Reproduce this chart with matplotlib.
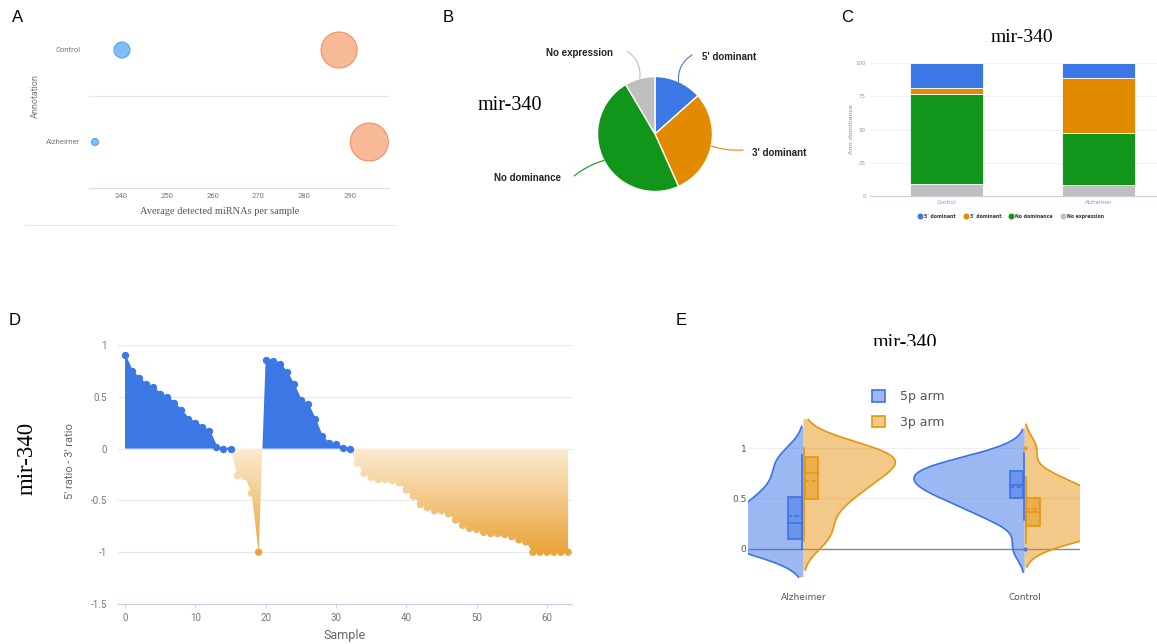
import numpy as np
import matplotlib.pyplot as plt
from matplotlib.colors import LinearSegmentedColormap
from matplotlib.lines import Line2D
from matplotlib.patches import PathPatch, Rectangle, Patch
from matplotlib.path import Path

# ---------------- data ----------------
# A: average detected miRNAs per sample (two bubble series)
groups_a = ['Alzheimer', 'Control']
blue_detected = [234.3, 240.2]
blue_weight = [2.3, 12.0]
orange_detected = [294.2, 287.6]
orange_weight = [68.0, 61.0]

# B / C: arm dominance classes
arm_classes = ["5' dominant", "3' dominant", "No dominance", "No expression"]
pie_share = [13.4, 29.9, 48.2, 8.5]
bar_groups = ['Control', 'Alzheimer']
control_share = [18.8, 4.5, 67.7, 9.0]
alzheimer_share = [11.0, 41.4, 39.3, 8.3]

# D: 5' ratio - 3' ratio per sample (first 20 control, then 44 alzheimer)
ratio_diff = [0.90, 0.75, 0.68, 0.62, 0.59, 0.53, 0.50, 0.44, 0.37, 0.29,
              0.25, 0.21, 0.17, 0.02, 0.0, 0.0, -0.26, -0.27, -0.43, -1.0,
              0.86, 0.85, 0.82, 0.74, 0.62, 0.47, 0.43, 0.29, 0.12, 0.05,
              0.04, 0.01, 0.0, -0.14, -0.24, -0.28, -0.30, -0.30, -0.31, -0.33,
              -0.40, -0.46, -0.54, -0.57, -0.60, -0.60, -0.63, -0.69, -0.74, -0.77,
              -0.78, -0.81, -0.82, -0.82, -0.83, -0.85, -0.88, -0.90, -1.0, -1.0,
              -1.0, -1.0, -1.0, -1.0]
n_control = 20

# E: arm ratios per group, same samples as D
violin_groups = ['Alzheimer', 'Control']
arm_names = ['5p arm', '3p arm']

BLUE = '#3c77e6'
ORANGE = '#e38b00'
GREEN = '#11961b'
GRAY = '#bfbfbf'
class_colors = [BLUE, ORANGE, GREEN, GRAY]
SERIF = 'Liberation Serif'
SANS = 'Roboto'

W, H = 1157, 644
fig = plt.figure(figsize=(W / 100, H / 100), dpi=100)


def axes_px(x0, y0, x1, y1):
    return fig.add_axes([x0 / W, 1 - y1 / H, (x1 - x0) / W, (y1 - y0) / H])


def ftext(px, py, s, **kw):
    return fig.text(px / W, 1 - py / H, s, **kw)


for lab, (px, py) in zip('ABCDE', [(18, 18), (448, 17), (847, 17), (15, 320), (681, 320)]):
    ftext(px, py, lab, fontsize=12, ha='center', va='center', family='Liberation Sans')

# ---------------- A ----------------
ax = axes_px(89, 4, 389, 188)
ax.scatter(blue_detected, [0, 1], s=np.array(blue_weight) * 11, color='#7fbff7',
           edgecolor='#4fa5f0', lw=0.8, zorder=3)
ax.scatter(orange_detected, [0, 1], s=np.array(orange_weight) * 11, color='#f8b996',
           edgecolor='#f39063', lw=0.8, zorder=3)
ax.set_xlim(233, 298.5)
ax.set_ylim(-0.5, 1.5)
ax.axhline(0.5, color='#e8e8e8', lw=0.8)
for s in ['top', 'right', 'left']:
    ax.spines[s].set_visible(False)
ax.spines['bottom'].set_color('#d6dcec')
ax.set_xticks(range(240, 291, 10))
ax.set_yticks([0, 1], groups_a)
ax.tick_params(length=0, labelsize=5.5, labelcolor='#777')
ax.tick_params(axis='y', pad=6)
ax.set_ylabel('Annotation', fontsize=6.5, color='#777', family=SANS)
ax.yaxis.set_label_coords(-0.165, 0.5)
for t in ax.get_xticklabels() + ax.get_yticklabels():
    t.set_family(SANS)
ftext(220, 211, 'Average detected miRNAs per sample', family=SERIF, fontsize=7.5,
      color='#555', ha='center', va='center')
fig.add_artist(Line2D([25 / W, 395 / W], [1 - 225 / H] * 2, color='#e6e6e6', lw=0.8))

# ---------------- B ----------------
cx, cy, r = 655, 134, 57.5
ax = axes_px(470, 28, 840, 242)
wedges = ax.pie(pie_share, colors=class_colors, startangle=90, counterclock=False,
                wedgeprops=dict(edgecolor='white', lw=1))[0]
ax.set_xlim((470 - cx) / r, (840 - cx) / r)
ax.set_ylim(-(242 - cy) / r, (cy - 28) / r)
ax.set_aspect('auto')
ax.axis('off')
leader_end = [(692, 55), (743, 150), (574, 176), (627, 51)]
label_pos = [(702, 57, 'left'), (752, 153, 'left'), (561, 178, 'right'), (613, 53, 'right')]
rads = [-0.3, 0.1, 0.1, 0.3]
for w, c, name, (ex, ey), (lx, ly, ha), rad in zip(wedges, class_colors, arm_classes,
                                                   leader_end, label_pos, rads):
    th = np.deg2rad((w.theta1 + w.theta2) / 2)
    ax.annotate('', xy=((ex - cx) / r, (cy - ey) / r), xytext=(np.cos(th), np.sin(th)),
                arrowprops=dict(arrowstyle='-', color=c, lw=0.8, shrinkA=0, shrinkB=0,
                                connectionstyle=f'arc3,rad={rad}'))
    ax.text((lx - cx) / r, (cy - ly) / r, name, ha=ha, va='center', fontsize=7,
            fontweight='bold', family='Liberation Sans', color='#222')
ftext(510, 105, 'mir-340', family=SERIF, fontsize=14.5, ha='center', va='center')

# ---------------- C ----------------
ax = axes_px(870, 63, 1157, 196)
stack_order = [3, 2, 1, 0]
xb = np.arange(len(bar_groups))
bottom = np.zeros(2)
for k in stack_order:
    vals = np.array([control_share[k], alzheimer_share[k]])
    ax.bar(xb, vals, 0.48, bottom=bottom, color=class_colors[k], edgecolor='white',
           lw=0.6, zorder=3)
    bottom += vals
ax.set_xlim(-0.5, 1.385)
ax.set_ylim(0, 100)
ax.set_yticks([0, 25, 50, 75, 100])
ax.yaxis.grid(True, color='#eeeeee', lw=0.6)
ax.set_xticks(xb, bar_groups)
for s in ['top', 'right', 'left']:
    ax.spines[s].set_visible(False)
ax.spines['bottom'].set_color('#c8d0e6')
ax.tick_params(length=0, labelsize=4, labelcolor='#999', pad=3)
ax.set_ylabel('Arm dominance', fontsize=4.5, color='#888')
ax.yaxis.set_label_coords(-0.055, 0.5)
legend_x = [920, 966, 1011, 1063]
for c, name, lx in zip(class_colors, arm_classes, legend_x):
    fig.add_artist(Line2D([lx / W], [1 - 216.5 / H], marker='o', ls='', color=c,
                          markersize=3.3))
    ftext(lx + 4, 216.5, name, fontsize=3.3, fontweight='bold', color='#333',
          ha='left', va='center')
ftext(1022, 38, 'mir-340', family=SERIF, fontsize=14, ha='center', va='center')

# ---------------- D ----------------
d = np.array(ratio_diff)
xs = np.arange(len(d))
ax = axes_px(118, 345, 572, 604)
ax.set_xlim(-1, 63.56)
ax.set_ylim(-1.5, 1.0)
ax.fill_between(xs, d, 0, where=d >= 0, interpolate=True, color=BLUE, lw=0, zorder=2)
neg = ax.fill_between(xs, d, 0, where=d <= 0, interpolate=True, facecolor='none', lw=0)
cm_orange = LinearSegmentedColormap.from_list('orng', ['#e9a43a', '#fcecd3'])
clip = PathPatch(Path.make_compound_path(*neg.get_paths()), transform=ax.transData,
                 facecolor='none', edgecolor='none')
ax.add_patch(clip)
im = ax.imshow(np.linspace(0, 1, 256)[:, None], extent=[-1, 64, -1, 0], origin='lower',
               aspect='auto', cmap=cm_orange, zorder=2)
im.set_clip_path(clip)
ax.plot(xs, np.where(d >= 0, d, np.nan), color=BLUE, lw=1.2, zorder=3)
pos = d >= 0
ax.scatter(xs[pos], d[pos], s=28, color=BLUE, lw=0, zorder=4)
ax.scatter(xs[~pos], d[~pos], s=28, c=d[~pos], cmap=cm_orange, vmin=-1, vmax=0, lw=0,
           zorder=4, clip_on=False)
ax.set_yticks([1, 0.5, 0, -0.5, -1, -1.5], ['1', '0.5', '0', '-0.5', '-1', '-1.5'])
ax.set_xticks(range(0, 61, 10))
ax.yaxis.grid(True, color='#e8e8e8', lw=0.8)
ax.set_axisbelow(True)
for s in ['top', 'right', 'left']:
    ax.spines[s].set_visible(False)
ax.spines['bottom'].set_color('#c6cfe8')
ax.tick_params(axis='y', length=0, labelsize=7, labelcolor='#777', pad=8)
ax.tick_params(axis='x', length=3, color='#d0d6e8', labelsize=7, labelcolor='#777')
for t in ax.get_xticklabels() + ax.get_yticklabels():
    t.set_family(SANS)
ax.set_ylabel("5' ratio - 3' ratio", fontsize=8, color='#666', family=SANS)
ax.yaxis.set_label_coords(-0.095, 0.55)
ax.set_xlabel('Sample', fontsize=9, color='#666', family=SANS, labelpad=4)
ftext(27, 458, 'mir-340', family=SERIF, fontsize=16.5, rotation=90, ha='center', va='center')

# ---------------- E ----------------
five_p = (d + 1) / 2
three_p = (1 - d) / 2
arm_data = {
    '5p arm': [five_p[n_control:], five_p[:n_control]],
    '3p arm': [three_p[n_control:], three_p[:n_control]],
}
arm_style = {'5p arm': ('#3b73e6', -1), '3p arm': ('#e69512', 1)}


def kde_curve(vals):
    n = len(vals)
    q1, q3 = np.percentile(vals, [25, 75])
    bw = 1.059 * min(vals.std(ddof=1), (q3 - q1) / 1.349) * n ** -0.2
    ys = np.linspace(vals.min() - 2 * bw, vals.max() + 2 * bw, 300)
    dens = np.exp(-0.5 * ((ys[:, None] - vals[None, :]) / bw) ** 2).sum(1) / (n * bw * np.sqrt(2 * np.pi))
    return ys, dens


ax = axes_px(748, 400, 1080, 585)
ax.set_xlim(-0.25, 1.25)
ax.set_ylim(-0.363, 1.478)
ax.axhline(0.5, color='#eeeeee', lw=0.8, zorder=0)
ax.axhline(1.0, color='#eeeeee', lw=0.8, zorder=0)
ax.axhline(0, color='#888888', lw=1, zorder=1)
max_w = 0.5
for name in arm_names:
    col, side = arm_style[name]
    curves = [kde_curve(v) for v in arm_data[name]]
    gmax = max(c[1].max() for c in curves)
    for gi, (vals, (ys, dens)) in enumerate(zip(arm_data[name], curves)):
        wdt = max_w * dens / gmax
        ax.fill_betweenx(ys, gi, gi + side * wdt, facecolor=col, alpha=0.5, lw=0, zorder=2)
        ax.plot(gi + side * wdt, ys, color=col, lw=1.2, zorder=3)
        q1, med, q3 = np.percentile(vals, [25, 50, 75])
        iqr = q3 - q1
        inside = vals[(vals >= q1 - 1.5 * iqr) & (vals <= q3 + 1.5 * iqr)]
        outl = vals[(vals < q1 - 1.5 * iqr) | (vals > q3 + 1.5 * iqr)]
        x_in, x_out = (gi + 0.006 * side, gi + 0.068 * side)
        xl, xr = min(x_in, x_out), max(x_in, x_out)
        ax.plot([gi + 0.005 * side] * 2, [inside.min(), inside.max()], color=col, lw=1.2, zorder=4)
        ax.add_patch(Rectangle((xl, q1), xr - xl, iqr, facecolor=col, alpha=0.5,
                               edgecolor='none', zorder=4))
        ax.add_patch(Rectangle((xl, q1), xr - xl, iqr, facecolor='none',
                               edgecolor=col, lw=1.2, zorder=5))
        ax.plot([xl, xr], [med, med], color=col, lw=1.2, zorder=5)
        ax.plot([xl, xr], [vals.mean()] * 2, color=col, lw=1.2, ls=(0, (2.5, 1.5)), zorder=5)
        ax.scatter([gi] * len(outl), outl, s=10, color=col, lw=0, zorder=6, alpha=0.8)
for s in ax.spines.values():
    s.set_visible(False)
ax.set_yticks([0, 0.5, 1], ['0', '0.5', '1'])
ax.set_xticks([0, 1], violin_groups)
ax.tick_params(length=0, labelsize=6.5, labelcolor='#555', pad=1)
ax.tick_params(axis='x', pad=6)
leg_handles = [Patch(facecolor=arm_style[n][0], edgecolor=arm_style[n][0], lw=1.2)
               for n in arm_names]
for h in leg_handles:
    h.set_facecolor(h.get_facecolor()[:3] + (0.5,))
leg = ax.legend(leg_handles, arm_names, loc='upper left', frameon=False,
                bbox_to_anchor=(861 / W, 1 - 379 / H), bbox_transform=fig.transFigure,
                handlelength=1.0, handleheight=1.0, labelspacing=1.0, handletextpad=1.2,
                fontsize=9)
for t in leg.get_texts():
    t.set_color('#555')

tax = axes_px(840, 320, 980, 345.5)
tax.axis('off')
tax.set_xlim(840, 980)
tax.set_ylim(345.5, 320)
tax.text(905, 348, 'mir-340', family=SERIF, fontsize=14.5, ha='center', va='baseline',
         clip_on=True)

fig.savefig('out.png', dpi=100)
